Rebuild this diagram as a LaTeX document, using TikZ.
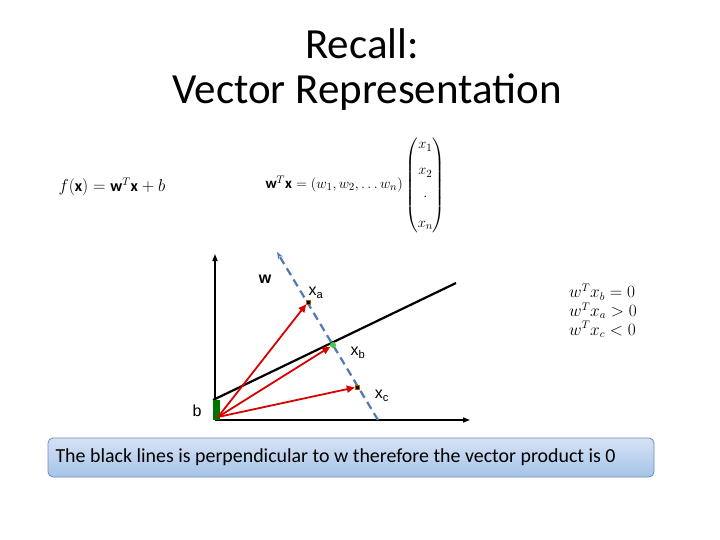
\documentclass[tikz,border=0pt]{standalone}
\usepackage{amsmath}
\usepackage{fontspec}
\setmainfont{Carlito}
\setsansfont{Liberation Sans}
\usetikzlibrary{arrows.meta}
\definecolor{boxtop}{RGB}{214,226,244}
\definecolor{boxbot}{RGB}{165,195,232}
\definecolor{boxline}{RGB}{110,140,185}
\definecolor{dashblue}{RGB}{80,120,180}
\begin{document}
\begin{tikzpicture}[x=1pt,y=-1pt,
 vec/.style={red!85!black,line width=1.8pt,-{Triangle[length=8pt,width=7pt]}},
 ax/.style={black,line width=1.3pt,-{Triangle[length=7pt,width=5pt]}},
 pt/.style={fill=black,draw=orange!70!black,minimum size=4pt,inner sep=0pt},
 lbl/.style={font=\sffamily\fontsize{16}{16}\selectfont}]
\useasboundingbox (0,0) rectangle (720,540);
\node (t1) at (362,44) {\fontsize{43}{43}\selectfont Recall:};
\node (t2) at (367,92) {\fontsize{43}{43}\selectfont Vector Representation};
\node (f) at (112,187) {\fontsize{16}{16}\selectfont $f(\mathbf{x})=\mathbf{w}^T\mathbf{x}+b$};
\node[anchor=west] (wx) at (262,185) {\fontsize{15}{15}\selectfont $\mathbf{w}^T\mathbf{x}=(w_1,w_2,\ldots w_n)\begin{pmatrix}x_1\\[11pt] x_2\\[11pt] \cdot\\[11pt] x_n\end{pmatrix}$};
\node (cond) at (603,312) {\fontsize{16}{17}\selectfont $\begin{array}{@{}l@{}}w^Tx_b=0\\ w^Tx_a>0\\ w^Tx_c<0\end{array}$};
\coordinate (o) at (215,420);
\coordinate (oo) at (218,417);
\coordinate (yt) at (215,254);
\coordinate (xr) at (470,420);
\draw[ax] (o) -- (yt);
\draw[ax] (o) -- (xr);
\coordinate (l1) at (213,400);
\coordinate (l2) at (456,283);
\draw[line width=2.2pt] (l1) -- (l2);
\coordinate (d1) at (277,252);
\coordinate (d2) at (378,420);
\draw[dashblue,line width=2.2pt,dash pattern=on 8pt off 5pt,-{Stealth[length=7pt]}] (d2) -- (d1);
\node[fill=green!45!black,minimum width=7pt,minimum height=20pt,inner sep=0pt] (bb) at (216.5,410) {};
\node[pt] (xa) at (308,302) {};
\node[fill=green!70!black!70,circle,minimum size=6pt,inner sep=0pt] (xb) at (333,345) {};
\node[pt] (xc) at (357,387) {};
\draw[vec] (oo) -- (xa);
\draw[vec] (oo) -- (xb);
\draw[vec] (oo) -- (xc);
\node[lbl] (lw) at (265,279) {\textbf{w}};
\node[lbl] (la) at (316,293) {x\textsubscript{a}};
\node[lbl] (lb) at (358,353) {x\textsubscript{b}};
\node[lbl] (lc) at (382,396) {x\textsubscript{c}};
\node[lbl] (lbb) at (197,411) {b};
\node[draw=boxline,line width=0.8pt,rounded corners=5pt,top color=boxtop,bottom color=boxbot,minimum width=606pt,minimum height=39pt] (box) at (351,457.5) {};
\node[anchor=west] (bt) at (52,457.5) {\fontsize{19.9}{19.9}\selectfont The black lines is perpendicular to w therefore the vector product is 0};
\end{tikzpicture}
\end{document}
